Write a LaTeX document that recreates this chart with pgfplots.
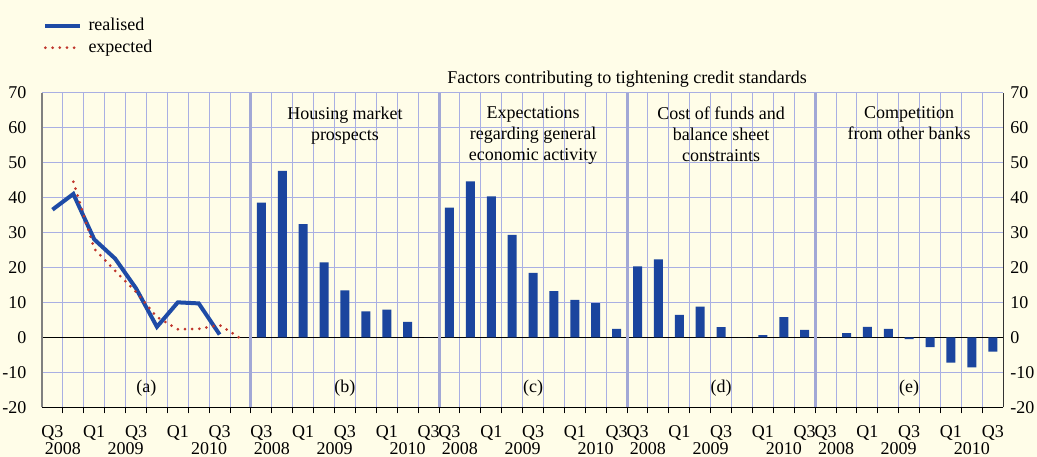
\documentclass[border=0pt]{standalone}
\usepackage{pgfplots}
\pgfplotsset{compat=1.18}
\usepackage{fontspec}
\setmainfont{Liberation Serif}
\definecolor{bg}{HTML}{FFFDE8}
\definecolor{gridc}{HTML}{A9AFE3}
\definecolor{sepc}{HTML}{A2A8D6}
\definecolor{barblue}{HTML}{1B459E}
\definecolor{lineblue}{HTML}{1E4BA6}
\definecolor{dotred}{HTML}{C0362C}
\begin{document}
\begin{tikzpicture}[font=\fontsize{9}{10.5}\selectfont]
\fill[bg] (-21pt,-24.85pt) rectangle (497.55pt,203.65pt);
\begin{axis}[
  at={(0pt,0pt)}, anchor=south west,
  width=480.65pt, height=157.4pt, scale only axis,
  xmin=-0.5, xmax=45.5, ymin=-20, ymax=70,
  axis line style={draw=none},
  clip=false,
  ytick={-20,-10,...,70},
  ymajorgrids,
  major grid style={gridc, line width=0.5pt},
  minor grid style={gridc, line width=0.5pt},
  xtick={0,2,4,6,8,10,12,14,16,18,19,21,23,25,27,28,30,32,34,36,37,39,41,43,45},
  xticklabels={Q3,Q1,Q3,Q1,Q3,Q3,Q1,Q3,Q1,Q3,Q3,Q1,Q3,Q1,Q3,Q3,Q1,Q3,Q1,Q3,Q3,Q1,Q3,Q1,Q3},
  xticklabel style={inner ysep=0.5pt, yshift=-4pt},
  minor xtick={0.5,1.5,...,44.5},
  xminorgrids,
  extra x ticks={0.5,3.5,7.5,10.5,13.5,17,19.5,22.5,26,28.5,31.5,35,37.5,40.5,44},
  extra x tick labels={2008,2009,2010,2008,2009,2010,2008,2009,2010,2008,2009,2010,2008,2009,2010},
  extra x tick style={grid=none, major tick length=0pt, xticklabel style={yshift=-13pt}},
  major x tick style={draw=none},
  minor x tick style={black, line width=0.5pt},
  minor tick length=3pt,
  tick align=outside,
  xtick pos=bottom,
  ytick style={draw=none},
  yticklabel pos=left,
  tick label style={font=\fontsize{9}{10.5}\selectfont, text=black},
  /pgf/number format/assume math mode=true,
  legend style={at={(0.001,1.246)}, anchor=north west, draw=none, fill=none,
    font=\fontsize{9}{10.5}\selectfont, row sep=0pt, inner sep=0pt, nodes={inner sep=1.5pt, inner xsep=3.5pt}},
  legend cell align=left,
]
% axis frame pieces
\draw[black, line width=0.6pt] (axis cs:-0.5,0) -- (axis cs:45.5,0);
\draw[sepc, line width=1.5pt] (axis cs:9.5,-20) -- (axis cs:9.5,70);
\draw[sepc, line width=1.5pt] (axis cs:18.5,-20) -- (axis cs:18.5,70);
\draw[sepc, line width=1.5pt] (axis cs:27.5,-20) -- (axis cs:27.5,70);
\draw[sepc, line width=1.5pt] (axis cs:36.5,-20) -- (axis cs:36.5,70);
\draw[gray, line width=1pt] (axis cs:-0.5,-20) -- (axis cs:-0.5,70);
\draw[black!80, line width=0.6pt] (axis cs:45.5,-20) -- (axis cs:45.5,70);
\draw[black, line width=0.5pt] (axis cs:-0.5,-20) -- (axis cs:45.5,-20);

\addplot[lineblue, line width=2pt] coordinates {
 (0,36.5)(1,41)(2,28)(3,22.5)(4,14)(5,3)(6,10)(7,9.7)(8,0.8)};
\addlegendentry{realised}
\addplot[dotred, line width=1.5pt, line cap=round, dash pattern=on 0pt off 3.6pt] coordinates {
 (1,44.5)(2,25.3)(3,19)(4,13)(5,5.8)(6,2.3)(7,2.4)(8,3.5)(9,-0.3)};
\addlegendentry{expected}

\addplot[ybar, bar width=4.5pt, bar shift=0pt, fill=barblue, draw=none, forget plot] coordinates {
 (10,38.5)(11,47.6)(12,32.4)(13,21.4)(14,13.4)(15,7.4)(16,7.9)(17,4.4)(18,0)
 (19,37.1)(20,44.6)(21,40.3)(22,29.3)(23,18.4)(24,13.2)(25,10.7)(26,9.8)(27,2.4)
 (28,20.3)(29,22.3)(30,6.4)(31,8.8)(32,2.9)(33,0)(34,0.6)(35,5.8)(36,2.1)
 (37,0)(38,1.2)(39,3.0)(40,2.4)(41,-0.5)(42,-2.8)(43,-7.2)(44,-8.6)(45,-4.1)};

\node[align=center, anchor=north, inner sep=0pt] at (axis cs:14,66) {Housing market\\prospects};
\node[align=center, anchor=north, inner sep=0pt] at (axis cs:23,66) {Expectations\\regarding general\\economic activity};
\node[align=center, anchor=north, inner sep=0pt] at (axis cs:32,66) {Cost of funds and\\balance sheet\\constraints};
\node[align=center, anchor=north, inner sep=0pt] at (axis cs:41,66) {Competition\\from other banks};
\node at (axis cs:27.5,73.7) {Factors contributing to tightening credit standards};
\node at (axis cs:4.5,-14.6) {(a)};
\node at (axis cs:14,-14.6) {(b)};
\node at (axis cs:23,-14.6) {(c)};
\node at (axis cs:32,-14.6) {(d)};
\node at (axis cs:41,-14.6) {(e)};
\end{axis}
\begin{axis}[
  at={(0pt,0pt)}, anchor=south west,
  width=480.65pt, height=157.4pt, scale only axis,
  xmin=-0.5, xmax=45.5, ymin=-20, ymax=70,
  axis line style={draw=none},
  xtick=\empty,
  ytick={-20,-10,...,70},
  ytick style={draw=none},
  yticklabel pos=right,
  tick label style={font=\fontsize{9}{10.5}\selectfont, text=black},
  /pgf/number format/assume math mode=true,
]
\addplot[draw=none] coordinates {(0,0)};
\end{axis}
\pgfresetboundingbox
\useasboundingbox (-21pt,-24.85pt) rectangle (497.55pt,203.65pt);
\end{tikzpicture}
\end{document}
